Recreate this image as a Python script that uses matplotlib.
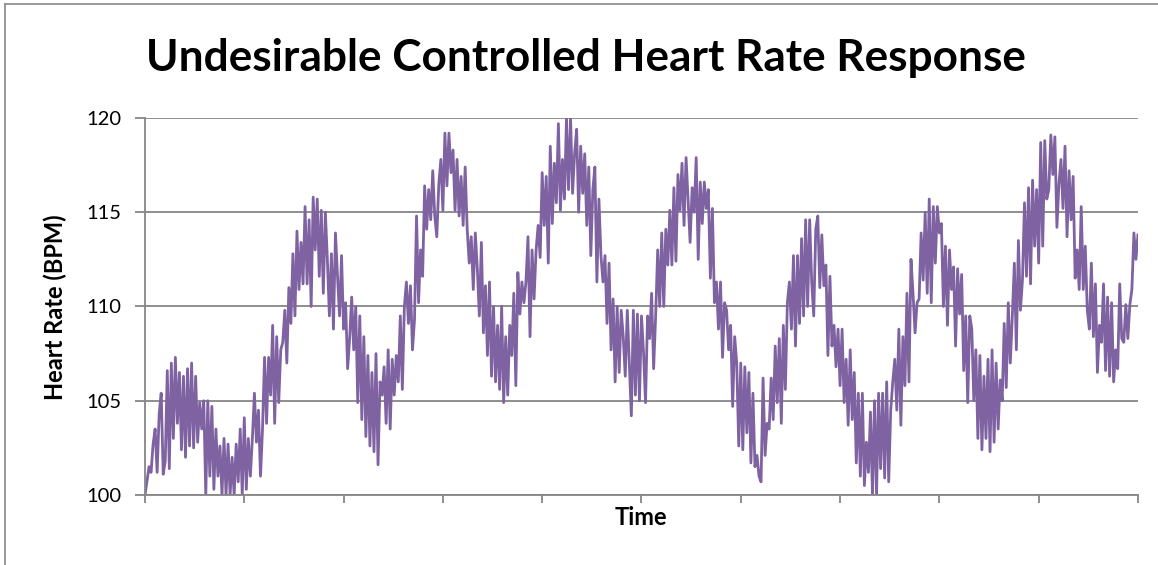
import numpy as np
import matplotlib
matplotlib.use("Agg")
import matplotlib.pyplot as plt
from matplotlib.lines import Line2D

# heart rate samples (BPM) left to right
hr_part1 = [
    100.0, 100.75, 101.5, 101.2, 102.7, 103.5, 101.2, 104.3, 105.4, 101.1,
    101.8, 106.6, 101.4, 107.0, 103.0, 107.3, 103.8, 106.5, 102.4, 106.3,
    102.0, 106.7, 102.6, 107.0, 102.5, 106.3, 102.8, 104.9, 103.5, 105.0,
    100.0, 105.0, 101.0, 104.7, 100.3, 103.5, 101.0, 102.6, 100.0, 103.0,
    100.0, 102.7, 100.0, 102.0, 100.0, 102.7, 100.7, 103.5, 100.0, 104.1,
    100.3, 103.0, 101.0, 103.0, 105.4, 102.8, 104.5, 101.0, 103.5, 107.3,
    103.8, 107.3, 105.3, 109.0, 103.8, 108.4, 104.9, 107.7, 108.1, 109.8,
    107.0, 111.0, 109.1, 112.8, 109.5, 114.0, 110.9, 113.4, 111.2, 115.3,
    111.2, 114.6, 110.0, 115.8, 113.0, 115.7, 111.6,
]
hr_part2 = [
    115.1, 110.7, 115.0, 112.5, 109.5, 112.8, 108.8, 113.9,
    111.6, 109.5, 112.7, 108.8, 110.2, 106.7, 108.3, 110.5, 107.7,
    110.0, 104.9, 109.5, 104.0, 108.4, 103.1, 107.4, 102.6,
    106.5, 102.3, 107.5, 101.6, 106.0, 105.3, 106.8, 103.8, 107.7,
    103.5, 107.2, 105.3, 107.4, 106.0, 109.5, 105.6, 110.0, 111.3,
    109.1, 111.1, 107.7, 109.3, 114.8, 110.2, 113.0, 111.6,
    116.4, 114.1, 116.2, 114.6, 117.2, 114.8, 113.7, 116.5, 117.8,
    115.1, 119.2, 116.4, 119.2, 117.1, 118.3, 115.1, 117.8,
    114.8, 116.9, 114.3, 117.4, 114.1, 112.3, 113.7, 110.9,
    113.9, 112.0, 109.5, 113.4, 108.6, 111.1, 107.4,
]
hr_part3 = [
    111.3, 106.3, 110.0, 106.0, 109.0, 105.6, 110.0, 104.9,
    108.4, 105.3, 109.0, 107.4, 110.7, 105.8, 111.8, 109.6, 111.3,
    110.2, 111.3, 113.7, 108.4, 113.0, 110.4, 113.0, 114.3, 112.6,
    117.1, 114.3, 116.9, 112.3, 118.5, 114.4, 117.6, 115.5,
    119.7, 115.1, 117.8, 115.7, 120.0, 116.2, 120.0, 116.0, 118.1,
    119.4, 115.0, 118.5, 116.0, 118.1, 114.3, 117.4, 112.7, 116.2,
    117.4, 111.3, 115.7, 112.7, 111.3, 112.7, 109.1, 112.3, 107.7,
    110.4, 106.0, 110.0, 106.5, 109.8, 108.4, 106.3, 109.8, 107.0, 104.2,
    109.8, 105.3, 109.6, 105.0, 109.5, 107.6, 104.9, 109.5, 108.3,
    110.7, 106.7,
]
hr_part4 = [
    109.5, 113.0, 110.0, 113.9, 110.0, 114.1, 112.2, 115.1,
    112.2, 116.3, 112.4, 117.0, 115.1, 117.6, 114.3, 117.9,
    115.7, 113.4, 116.3, 115.0, 117.9, 112.5, 116.6, 114.4,
    116.6, 115.2, 116.2, 111.5, 115.2, 110.2, 111.3, 108.8, 111.3,
    107.3, 110.2, 109.8, 107.7, 109.0, 104.7, 108.4, 107.0,
    102.6, 107.0, 102.4, 106.8, 103.3, 106.5, 101.7, 105.4,
    101.5, 102.1, 101.0, 100.7, 106.2, 102.1, 103.8, 103.5,
    106.2, 104.0, 107.9, 104.9, 108.3, 103.8, 109.0, 105.6,
    110.2, 111.3, 108.8, 112.7, 107.9, 112.7, 109.1, 113.6,
    109.5, 114.6, 110.0, 114.6, 111.3, 109.5, 114.1,
]
hr_part5 = [
    114.8, 111.0, 113.8, 111.1, 112.2, 107.4, 111.6, 107.9, 109.0, 106.8,
    108.8, 105.8, 108.8, 104.9, 107.2, 103.7, 107.7, 104.0,
    106.5, 101.7, 105.4, 101.0, 105.4, 100.5, 102.8, 101.2,
    104.4, 100.0, 105.0, 100.0, 105.4, 101.4, 105.4, 100.9,
    106.0, 100.7, 104.5, 106.0, 107.2, 104.5, 108.8, 103.7,
    108.4, 105.8, 110.7, 106.0, 112.5, 110.7, 108.6, 110.2,
    110.4, 113.9, 111.4, 115.0, 110.7, 115.7, 110.2, 115.3,
    112.3, 115.3, 113.9, 114.4, 110.0, 113.2, 109.0, 113.0,
    110.9, 112.1, 107.9, 112.0, 109.6, 111.7, 106.6, 109.5,
    104.9, 109.5,
]
hr_part6 = [
    108.8, 105.0, 107.7, 103.0, 107.4, 102.4, 106.3, 103.0, 107.2, 102.3,
    107.7, 102.8, 107.0, 103.5, 106.1, 105.0, 109.1, 105.7,
    110.2, 107.0, 109.5, 112.3, 107.7, 113.5, 109.8, 111.4,
    115.5, 111.6, 116.3, 111.2, 116.7, 113.2, 116.2, 112.3,
    118.7, 113.2, 118.8, 115.7, 116.2, 119.1, 117.0, 119.0,
    114.2, 116.5, 117.8, 115.2, 118.5, 113.7, 117.2, 114.6, 116.9,
    111.5, 113.0, 110.9, 115.3, 110.9, 113.2, 109.8, 108.8,
    112.3, 108.4, 111.2, 106.5, 109.0, 108.1, 111.2, 106.6,
    110.5, 106.3, 110.2, 106.0, 107.7, 106.7, 111.2, 108.3,
    108.1, 110.1, 108.3, 110.1, 110.9, 113.9, 112.5, 113.8,
]

heart_rate = hr_part1 + hr_part2 + hr_part3 + hr_part4 + hr_part5 + hr_part6
y_ticks = [100, 105, 110, 115, 120]

plt.rcParams['font.family'] = ['Lato', 'DejaVu Sans']
grid_color = '#868686'

fig = plt.figure(figsize=(11.58, 5.65), dpi=100)
ax = fig.add_axes([0.1252, 0.1239, 0.9827 - 0.1252, 0.7912 - 0.1239])

n = len(heart_rate)
ax.plot(np.arange(n), heart_rate, color='#7E62A1', lw=2.0, solid_joinstyle='round')

ax.set_xlim(0, n - 1)
ax.set_ylim(100, 120)
ax.set_yticks(y_ticks)
ax.set_xticks(np.linspace(0, n - 1, 11))
ax.set_xticklabels([])
ax.yaxis.grid(True, color=grid_color, lw=1.3)
ax.set_axisbelow(True)

for side in ['top', 'right']:
    ax.spines[side].set_visible(False)
for side in ['left', 'bottom']:
    ax.spines[side].set_color(grid_color)
    ax.spines[side].set_linewidth(1.3)

ax.tick_params(axis='y', length=7, width=1.3, color=grid_color, labelsize=14.5, pad=10)
ax.tick_params(axis='x', length=6, width=1.3, color=grid_color)

# axis titles and chart title placed in figure coords
fig.text(0.0475, 0.4566, 'Heart Rate (BPM)', rotation=90, ha='center', va='center',
         fontsize=17, fontweight='bold')
fig.text(0.5535, 0.0832, 'Time', ha='center', va='center', fontsize=17, fontweight='bold')
fig.text(0.506, 0.897, 'Undesirable Controlled Heart Rate Response',
         ha='center', va='center', fontsize=31.8, fontweight='bold')

# chart area border (left and top edges visible)
fig.add_artist(Line2D([0.004, 0.004], [0.0, 0.993], color=grid_color, lw=1.2))
fig.add_artist(Line2D([0.004, 1.0], [0.993, 0.993], color=grid_color, lw=1.2))

fig.savefig('out.png', dpi=100)
